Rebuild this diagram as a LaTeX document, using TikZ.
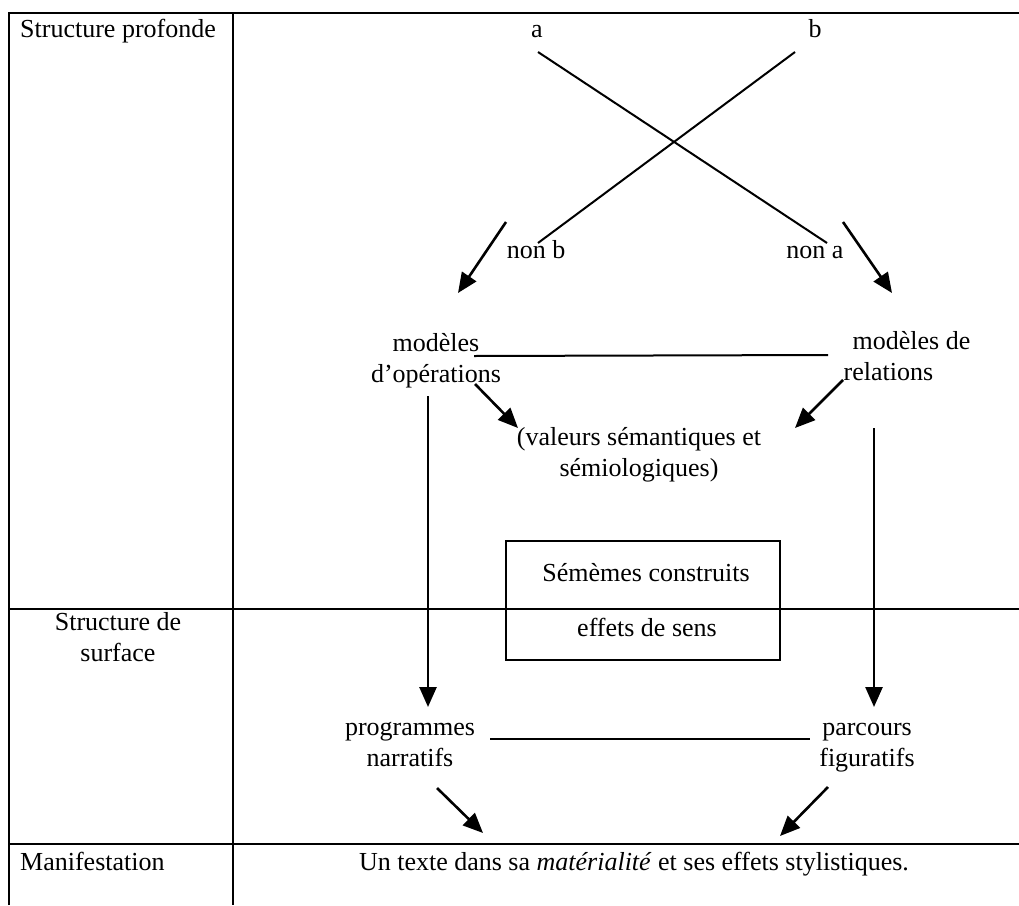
\documentclass[tikz,border=0pt]{standalone}
\usepackage{fontspec}
\setmainfont{Liberation Serif}
\usetikzlibrary{arrows.meta}
\begin{document}
\begin{tikzpicture}[x=1pt,y=-1pt,
  lbl/.style={inner sep=0pt, font=\fontsize{26}{31}\selectfont, align=center},
  tbl/.style={line width=2.6pt},
  ln/.style={line width=2pt},
  arr/.style={line width=2.6pt, -{Triangle[length=20pt,width=17pt]}},
  boxed/.style={draw, line width=2pt, minimum width=274pt, minimum height=119pt, inner sep=0pt}
]
\useasboundingbox (0,0) rectangle (1019,905);
% table frame
\coordinate (tl) at (9,13);
\coordinate (bl) at (9,905);
\coordinate (tr) at (1019,13);
\coordinate (ct) at (233,13);
\coordinate (cb) at (233,905);
\coordinate (r1l) at (9,609);
\coordinate (r1r) at (1019,609);
\coordinate (r2l) at (9,844);
\coordinate (r2r) at (1019,844);
\draw[tbl] (bl) -- (tl) -- (tr);
\draw[tbl] (ct) -- (cb);
\draw[tbl] (r1l) -- (r1r);
\draw[tbl] (r2l) -- (r2r);
% box
\node[boxed] (box) at (643,600.5) {};
% labels
\node[lbl, anchor=west] (sp) at (20,31) {\strut Structure profonde};
\node[lbl] (a) at (537,31) {\strut a};
\node[lbl] (b) at (815,31) {\strut b};
\node[lbl] (nb) at (536,252) {\strut non b};
\node[lbl] (na) at (815,252) {\strut non a};
\node[lbl] (mo) at (436,361) {\strut modèles\\\strut d’opérations};
\node[lbl, align=left] (mr) at (907,359) {\strut\hspace*{9pt}modèles de\\\strut relations};
\node[lbl] (val) at (639,455) {\strut(valeurs sémantiques et\\\strut sémiologiques)};
\node[lbl] (sc) at (646,575) {\strut Sémèmes construits};
\node[lbl] (es) at (647,630) {\strut effets de sens};
\node[lbl] (sds) at (118,640) {\strut Structure de\\\strut surface};
\node[lbl] (pn) at (410,745) {\strut programmes\\\strut narratifs};
\node[lbl] (pf) at (867,745) {\strut parcours\\\strut figuratifs};
\node[lbl, anchor=west] (man) at (20,864) {\strut Manifestation};
\node[lbl] (txt) at (634,864) {\strut Un texte dans sa \textit{matérialité} et ses effets stylistiques.};
% connector ends
\coordinate (a1) at (538,52);
\coordinate (na1) at (827,243);
\coordinate (b1) at (795,52);
\coordinate (nb1) at (538,243);
\coordinate (nb2) at (506,222);
\coordinate (mo1) at (458,293);
\coordinate (na2) at (843,222);
\coordinate (mr1) at (892,293);
\coordinate (mo2) at (474,356);
\coordinate (mr2) at (828,355);
\coordinate (mo3) at (475,384);
\coordinate (val1) at (518,428);
\coordinate (mr3) at (843,380);
\coordinate (val2) at (795,428);
\coordinate (mo4) at (428,396);
\coordinate (pn1) at (428,707);
\coordinate (mr4) at (874,428);
\coordinate (pf1) at (874,707);
\coordinate (pn2) at (490,739);
\coordinate (pf2) at (810,739);
\coordinate (pn3) at (437,788);
\coordinate (txt1) at (483,833);
\coordinate (pf3) at (828,787);
\coordinate (txt2) at (780,836);
% connectors
\draw[ln] (a1) -- (na1);
\draw[ln] (b1) -- (nb1);
\draw[arr] (nb2) -- (mo1);
\draw[arr] (na2) -- (mr1);
\draw[ln] (mo2) -- (mr2);
\draw[arr] (mo3) -- (val1);
\draw[arr] (mr3) -- (val2);
\draw[arr] (mo4) -- (pn1);
\draw[arr] (mr4) -- (pf1);
\draw[ln] (pn2) -- (pf2);
\draw[arr] (pn3) -- (txt1);
\draw[arr] (pf3) -- (txt2);
\end{tikzpicture}
\end{document}
